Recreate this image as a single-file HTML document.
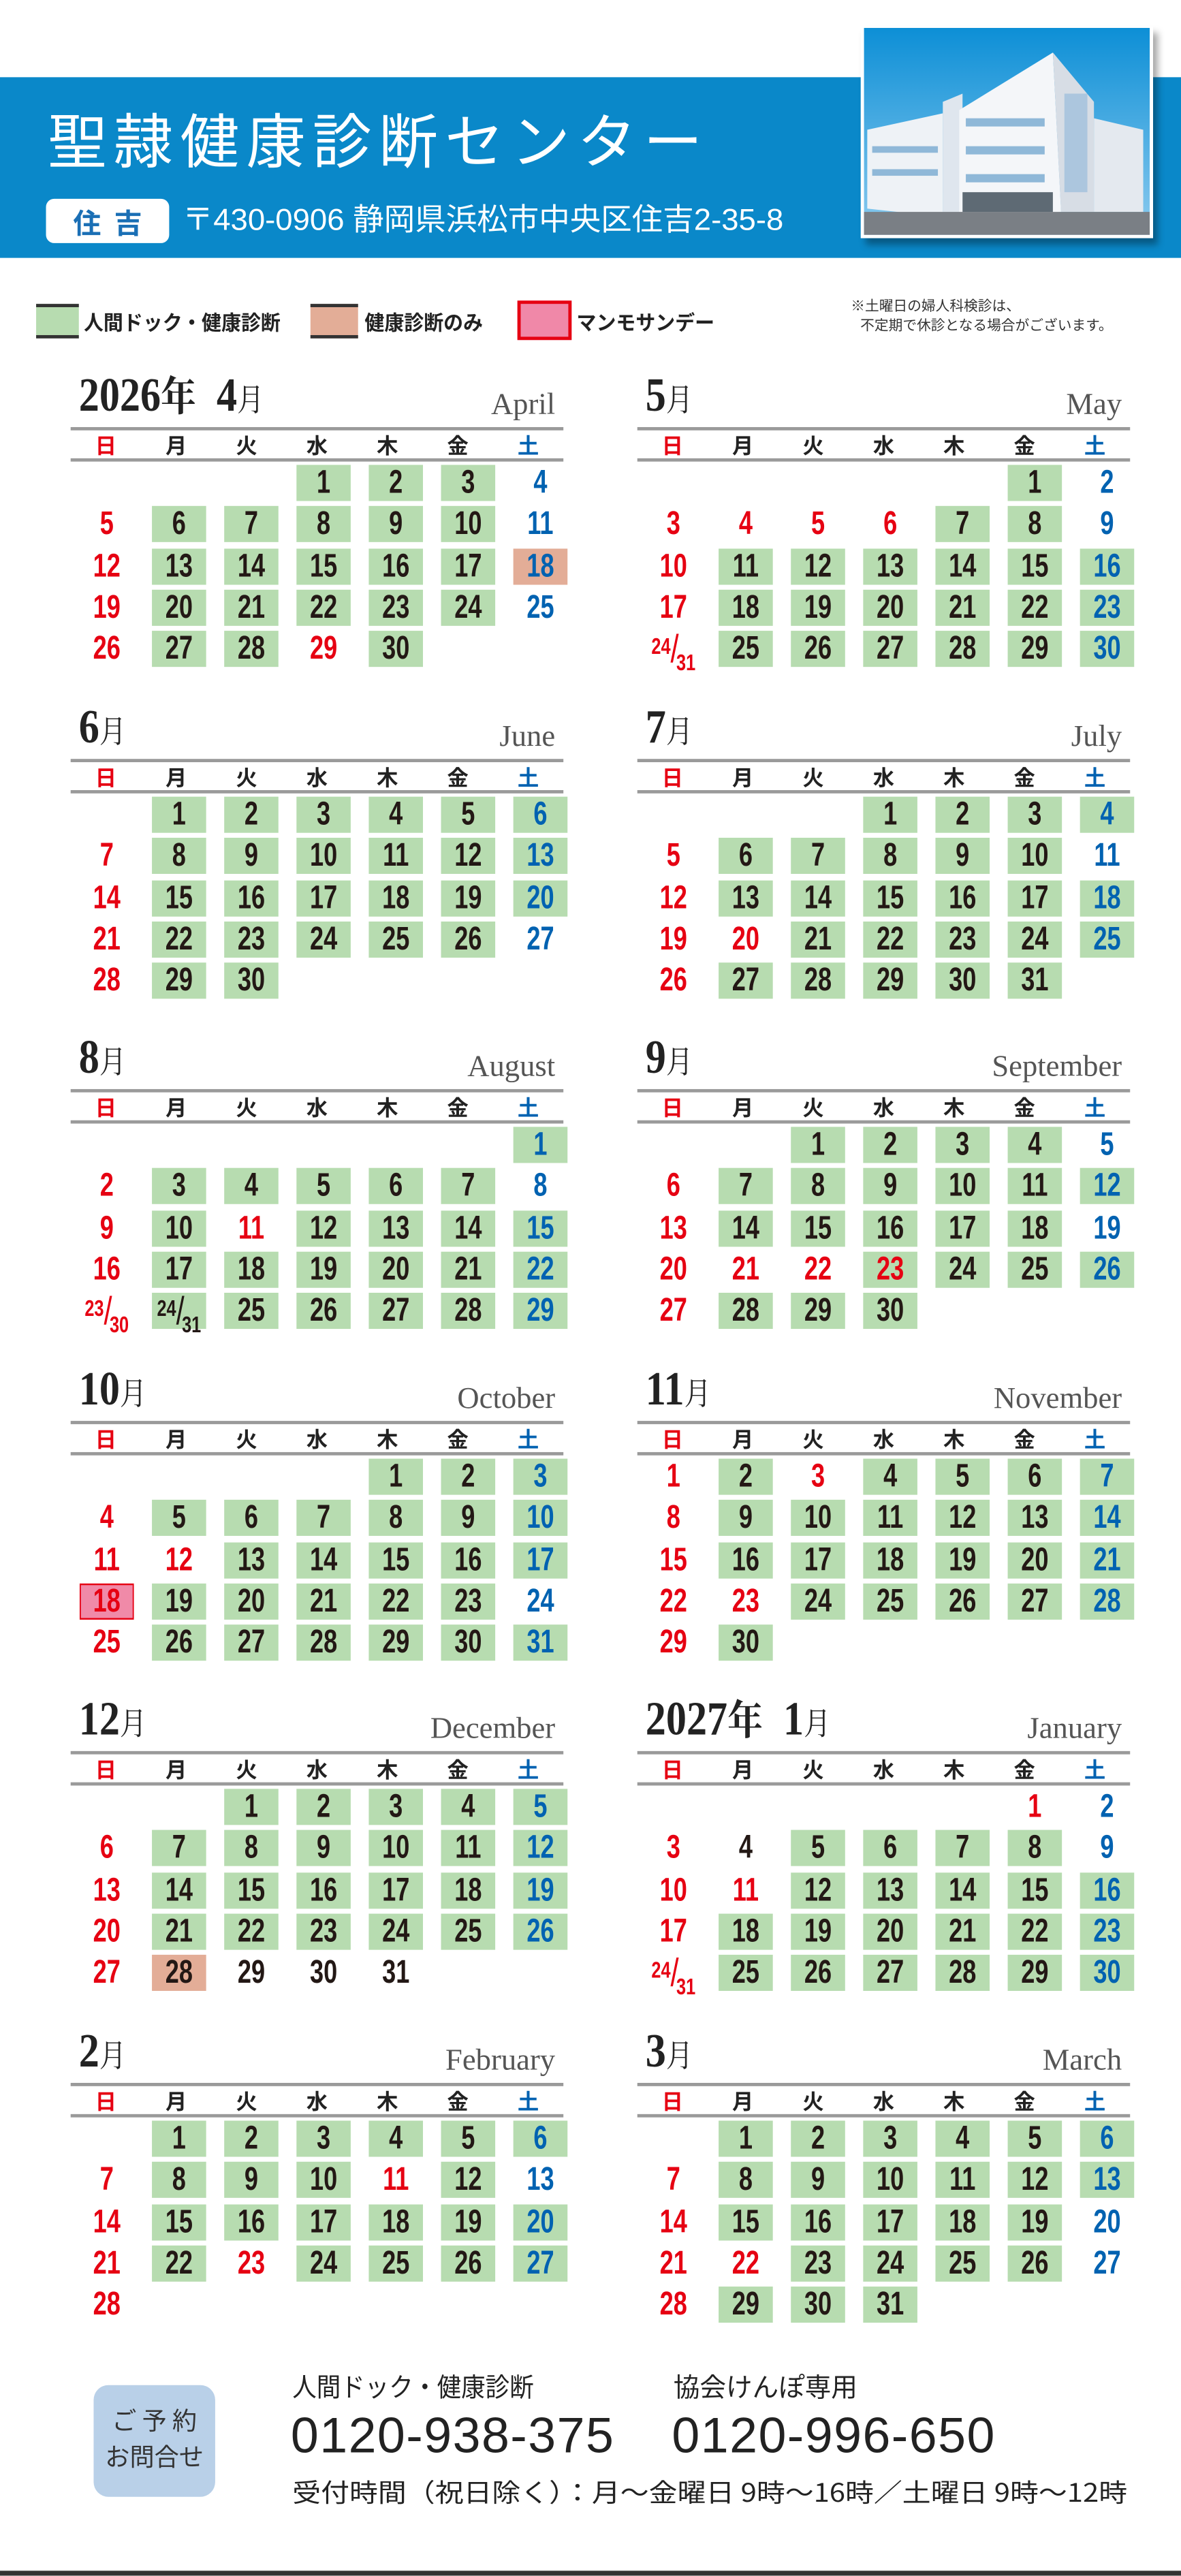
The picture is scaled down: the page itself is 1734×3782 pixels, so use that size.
<!DOCTYPE html>
<html><head><meta charset="utf-8">
<style>
html,body{margin:0;padding:0;background:#fff;}
body{width:1734px;height:3780px;overflow:hidden;position:relative;}
#w{position:absolute;left:0;top:0;width:719px;height:1568px;transform:scale(2.41168);transform-origin:0 0;font-family:"Liberation Sans","Noto Sans CJK JP",sans-serif;}
.band{position:absolute;left:0;top:47px;width:719px;height:110px;background:#0a88c9;}
.title{position:absolute;left:29px;top:62px;font-size:36px;letter-spacing:4.3px;color:#fff;font-family:"Noto Sans CJK JP",sans-serif;font-weight:400;line-height:44px;white-space:nowrap;}
.lab{position:absolute;left:28px;top:121px;width:75px;height:27px;background:#fff;border-radius:5px;color:#1a6fb5;font-weight:bold;font-size:17px;line-height:27px;text-align:center;font-family:"Noto Sans CJK JP",sans-serif;letter-spacing:8px;text-indent:8px;}
.addr{position:absolute;left:111px;top:119px;color:#fff;font-size:18.5px;line-height:30px;white-space:nowrap;font-family:"Liberation Sans","Noto Sans CJK JP",sans-serif;transform:scaleX(1.02);transform-origin:left;}
.photo{position:absolute;left:524px;top:16px;width:178px;height:129px;background:#fff;box-shadow:3px 4px 4px rgba(0,0,0,.35);}
.photo svg{position:absolute;left:2px;top:1px;}
.lg{position:absolute;top:185px;height:21px;box-sizing:border-box;}
.lt{position:absolute;top:185px;font-size:12.5px;line-height:21px;color:#222;font-family:"Noto Sans CJK JP",sans-serif;white-space:nowrap;font-weight:bold;transform:scaleX(.96);transform-origin:left;}
.note{position:absolute;left:518px;top:180px;font-size:8.6px;line-height:12px;color:#333;font-family:"Noto Sans CJK JP",sans-serif;white-space:nowrap;}
.cal{position:absolute;width:300px;}
.t{position:relative;height:28px;}
.t .n{position:absolute;left:5px;bottom:1px;font-family:"Liberation Serif","Noto Serif CJK SC",serif;font-weight:bold;font-size:29px;line-height:29px;color:#222;white-space:nowrap;transform:scaleX(.86);transform-origin:left bottom;}
.t .n small{font-size:25px;font-weight:bold;}
.t .n span{font-size:19px;font-weight:normal;}
.t em{position:absolute;right:5px;bottom:3px;font-style:normal;font-family:"Liberation Serif",serif;font-size:18.5px;line-height:20px;color:#555;}
.hd{border-top:2px solid #9a9a9a;border-bottom:2px solid #9a9a9a;height:17px;display:grid;grid-template-columns:repeat(7,1fr);font-size:13px;line-height:17px;text-align:center;color:#222;font-family:"Noto Sans CJK JP",sans-serif;font-weight:bold;}
.hd .r{color:#e60012}.hd .b{color:#0062b1}
.gr{display:grid;grid-template-columns:repeat(7,1fr);grid-auto-rows:25.3px;padding-top:2px;}
.gr i{display:block;justify-self:center;width:44px;height:22px;line-height:23px;text-align:center;font-style:normal;font-weight:bold;font-size:20px;color:#231815;transform:scaleX(.75);font-family:"Liberation Sans",sans-serif;box-sizing:border-box;}
.gr .g{background:#b7dcb0}
.gr .gb{background:#b7dcb0;color:#0062b1}
.gr .gx{background:#b7dcb0;color:#e60012}
.gr .r{color:#e60012}
.gr .b{color:#0062b1}
.gr .o{background:#e3ad97}
.gr .ob{background:#e3ad97;color:#0062b1}
.gr .p{background:#f08aa8;color:#e60012;border:1.5px solid #e60012;line-height:20px;}
.gr .f{font-size:24px;font-weight:normal;white-space:nowrap;letter-spacing:-2px;}
.gr .f sup{font-size:14px;font-weight:bold;vertical-align:5px;line-height:0;letter-spacing:0;}
.gr .f sub{font-size:14px;font-weight:bold;vertical-align:-5px;line-height:0;letter-spacing:0;}
.bx{position:absolute;left:57px;top:1452px;width:74px;height:68px;background:#b9d0e8;border-radius:9px;color:#333;font-family:"Noto Sans CJK JP",sans-serif;text-align:center;font-size:15px;line-height:22px;padding-top:11px;box-sizing:border-box;}
.ft{position:absolute;color:#222;font-family:"Noto Sans CJK JP",sans-serif;white-space:nowrap;transform-origin:left;}
.ph{position:absolute;top:1463px;font-size:30.5px;line-height:40px;color:#222;letter-spacing:.6px;font-family:"Liberation Sans",sans-serif;}
</style></head><body><div id="w">

<div class="band"></div>
<div class="title">聖隷健康診断センター</div>
<div class="lab">住吉</div>
<div class="addr">〒430-0906 静岡県浜松市中央区住吉2-35-8</div>
<div class="photo"><svg width="174" height="126" viewBox="0 0 174 126">
<defs><linearGradient id="sk" x1="0" y1="0" x2="0" y2="1"><stop offset="0" stop-color="#0d8fd6"/><stop offset="1" stop-color="#8ccbef"/></linearGradient></defs>
<rect width="174" height="126" fill="url(#sk)"/>
<polygon points="2,62 48,52 48,115 2,110" fill="#eef2f6"/>
<polygon points="48,45 60,40 60,116 48,116" fill="#dfe6ee"/>
<polygon points="58,50 115,15 120,112 58,116" fill="#f4f6f9"/>
<polygon points="115,15 140,45 140,112 120,112" fill="#d7dde5"/>
<polygon points="140,55 170,62 170,112 140,112" fill="#e4e9ef"/>
<g fill="#8fb8d8"><rect x="62" y="55" width="48" height="5"/><rect x="62" y="72" width="48" height="5"/><rect x="62" y="89" width="48" height="5"/><rect x="5" y="72" width="40" height="4"/><rect x="5" y="86" width="40" height="4"/><rect x="122" y="40" width="14" height="60" opacity=".6"/></g>
<rect x="0" y="112" width="174" height="14" fill="#7a7f85"/>
<rect x="60" y="100" width="55" height="12" fill="#5e6a74"/>
</svg></div>

<div class="lg" style="left:22px;width:26px;background:#b7dcb0;border-top:2px solid #333;border-bottom:2px solid #333;"></div>
<div class="lt" style="left:51px;">人間ドック・健康診断</div>
<div class="lg" style="left:189px;width:29px;background:#e3ad97;border-top:2px solid #333;border-bottom:2px solid #333;"></div>
<div class="lt" style="left:222px;">健康診断のみ</div>
<div class="lg" style="left:315px;width:33px;height:24px;top:183px;background:#f088a8;border:2px solid #e60012;"></div>
<div class="lt" style="left:351px;">マンモサンデー</div>
<div class="note">※土曜日の婦人科検診は、<br>&nbsp;&nbsp;&nbsp;不定期で休診となる場合がございます。</div>

<!-- April -->
<div class="cal" style="left:43px;top:232px;">
<div class="t"><div class="n">2026<small>年</small>&nbsp; 4<span>月</span></div><em>April</em></div>
<div class="hd"><span class="r">日</span><span>月</span><span>火</span><span>水</span><span>木</span><span>金</span><span class="b">土</span></div>
<div class="gr"><i></i><i></i><i></i><i class="g">1</i><i class="g">2</i><i class="g">3</i><i class="b">4</i>
<i class="r">5</i><i class="g">6</i><i class="g">7</i><i class="g">8</i><i class="g">9</i><i class="g">10</i><i class="b">11</i>
<i class="r">12</i><i class="g">13</i><i class="g">14</i><i class="g">15</i><i class="g">16</i><i class="g">17</i><i class="ob">18</i>
<i class="r">19</i><i class="g">20</i><i class="g">21</i><i class="g">22</i><i class="g">23</i><i class="g">24</i><i class="b">25</i>
<i class="r">26</i><i class="g">27</i><i class="g">28</i><i class="r">29</i><i class="g">30</i></div></div>

<!-- May -->
<div class="cal" style="left:388px;top:232px;">
<div class="t"><div class="n">5<span>月</span></div><em>May</em></div>
<div class="hd"><span class="r">日</span><span>月</span><span>火</span><span>水</span><span>木</span><span>金</span><span class="b">土</span></div>
<div class="gr"><i></i><i></i><i></i><i></i><i></i><i class="g">1</i><i class="b">2</i>
<i class="r">3</i><i class="r">4</i><i class="r">5</i><i class="r">6</i><i class="g">7</i><i class="g">8</i><i class="b">9</i>
<i class="r">10</i><i class="g">11</i><i class="g">12</i><i class="g">13</i><i class="g">14</i><i class="g">15</i><i class="gb">16</i>
<i class="r">17</i><i class="g">18</i><i class="g">19</i><i class="g">20</i><i class="g">21</i><i class="g">22</i><i class="gb">23</i>
<i class="r f"><sup>24</sup>/<sub>31</sub></i><i class="g">25</i><i class="g">26</i><i class="g">27</i><i class="g">28</i><i class="g">29</i><i class="gb">30</i></div></div>

<!-- June -->
<div class="cal" style="left:43px;top:434px;">
<div class="t"><div class="n">6<span>月</span></div><em>June</em></div>
<div class="hd"><span class="r">日</span><span>月</span><span>火</span><span>水</span><span>木</span><span>金</span><span class="b">土</span></div>
<div class="gr"><i></i><i class="g">1</i><i class="g">2</i><i class="g">3</i><i class="g">4</i><i class="g">5</i><i class="gb">6</i>
<i class="r">7</i><i class="g">8</i><i class="g">9</i><i class="g">10</i><i class="g">11</i><i class="g">12</i><i class="gb">13</i>
<i class="r">14</i><i class="g">15</i><i class="g">16</i><i class="g">17</i><i class="g">18</i><i class="g">19</i><i class="gb">20</i>
<i class="r">21</i><i class="g">22</i><i class="g">23</i><i class="g">24</i><i class="g">25</i><i class="g">26</i><i class="b">27</i>
<i class="r">28</i><i class="g">29</i><i class="g">30</i></div></div>

<!-- July -->
<div class="cal" style="left:388px;top:434px;">
<div class="t"><div class="n">7<span>月</span></div><em>July</em></div>
<div class="hd"><span class="r">日</span><span>月</span><span>火</span><span>水</span><span>木</span><span>金</span><span class="b">土</span></div>
<div class="gr"><i></i><i></i><i></i><i class="g">1</i><i class="g">2</i><i class="g">3</i><i class="gb">4</i>
<i class="r">5</i><i class="g">6</i><i class="g">7</i><i class="g">8</i><i class="g">9</i><i class="g">10</i><i class="b">11</i>
<i class="r">12</i><i class="g">13</i><i class="g">14</i><i class="g">15</i><i class="g">16</i><i class="g">17</i><i class="gb">18</i>
<i class="r">19</i><i class="r">20</i><i class="g">21</i><i class="g">22</i><i class="g">23</i><i class="g">24</i><i class="gb">25</i>
<i class="r">26</i><i class="g">27</i><i class="g">28</i><i class="g">29</i><i class="g">30</i><i class="g">31</i></div></div>

<!-- August -->
<div class="cal" style="left:43px;top:635px;">
<div class="t"><div class="n">8<span>月</span></div><em>August</em></div>
<div class="hd"><span class="r">日</span><span>月</span><span>火</span><span>水</span><span>木</span><span>金</span><span class="b">土</span></div>
<div class="gr"><i></i><i></i><i></i><i></i><i></i><i></i><i class="gb">1</i>
<i class="r">2</i><i class="g">3</i><i class="g">4</i><i class="g">5</i><i class="g">6</i><i class="g">7</i><i class="b">8</i>
<i class="r">9</i><i class="g">10</i><i class="r">11</i><i class="g">12</i><i class="g">13</i><i class="g">14</i><i class="gb">15</i>
<i class="r">16</i><i class="g">17</i><i class="g">18</i><i class="g">19</i><i class="g">20</i><i class="g">21</i><i class="gb">22</i>
<i class="r f"><sup>23</sup>/<sub>30</sub></i><i class="g f"><sup>24</sup>/<sub>31</sub></i><i class="g">25</i><i class="g">26</i><i class="g">27</i><i class="g">28</i><i class="gb">29</i></div></div>

<!-- September -->
<div class="cal" style="left:388px;top:635px;">
<div class="t"><div class="n">9<span>月</span></div><em>September</em></div>
<div class="hd"><span class="r">日</span><span>月</span><span>火</span><span>水</span><span>木</span><span>金</span><span class="b">土</span></div>
<div class="gr"><i></i><i></i><i class="g">1</i><i class="g">2</i><i class="g">3</i><i class="g">4</i><i class="b">5</i>
<i class="r">6</i><i class="g">7</i><i class="g">8</i><i class="g">9</i><i class="g">10</i><i class="g">11</i><i class="gb">12</i>
<i class="r">13</i><i class="g">14</i><i class="g">15</i><i class="g">16</i><i class="g">17</i><i class="g">18</i><i class="b">19</i>
<i class="r">20</i><i class="r">21</i><i class="r">22</i><i class="gx">23</i><i class="g">24</i><i class="g">25</i><i class="gb">26</i>
<i class="r">27</i><i class="g">28</i><i class="g">29</i><i class="g">30</i></div></div>

<!-- October -->
<div class="cal" style="left:43px;top:837px;">
<div class="t"><div class="n">10<span>月</span></div><em>October</em></div>
<div class="hd"><span class="r">日</span><span>月</span><span>火</span><span>水</span><span>木</span><span>金</span><span class="b">土</span></div>
<div class="gr"><i></i><i></i><i></i><i></i><i class="g">1</i><i class="g">2</i><i class="gb">3</i>
<i class="r">4</i><i class="g">5</i><i class="g">6</i><i class="g">7</i><i class="g">8</i><i class="g">9</i><i class="gb">10</i>
<i class="r">11</i><i class="r">12</i><i class="g">13</i><i class="g">14</i><i class="g">15</i><i class="g">16</i><i class="gb">17</i>
<i class="p">18</i><i class="g">19</i><i class="g">20</i><i class="g">21</i><i class="g">22</i><i class="g">23</i><i class="b">24</i>
<i class="r">25</i><i class="g">26</i><i class="g">27</i><i class="g">28</i><i class="g">29</i><i class="g">30</i><i class="gb">31</i></div></div>

<!-- November -->
<div class="cal" style="left:388px;top:837px;">
<div class="t"><div class="n">11<span>月</span></div><em>November</em></div>
<div class="hd"><span class="r">日</span><span>月</span><span>火</span><span>水</span><span>木</span><span>金</span><span class="b">土</span></div>
<div class="gr"><i class="r">1</i><i class="g">2</i><i class="r">3</i><i class="g">4</i><i class="g">5</i><i class="g">6</i><i class="gb">7</i>
<i class="r">8</i><i class="g">9</i><i class="g">10</i><i class="g">11</i><i class="g">12</i><i class="g">13</i><i class="gb">14</i>
<i class="r">15</i><i class="g">16</i><i class="g">17</i><i class="g">18</i><i class="g">19</i><i class="g">20</i><i class="gb">21</i>
<i class="r">22</i><i class="r">23</i><i class="g">24</i><i class="g">25</i><i class="g">26</i><i class="g">27</i><i class="gb">28</i>
<i class="r">29</i><i class="g">30</i></div></div>

<!-- December -->
<div class="cal" style="left:43px;top:1038px;">
<div class="t"><div class="n">12<span>月</span></div><em>December</em></div>
<div class="hd"><span class="r">日</span><span>月</span><span>火</span><span>水</span><span>木</span><span>金</span><span class="b">土</span></div>
<div class="gr"><i></i><i></i><i class="g">1</i><i class="g">2</i><i class="g">3</i><i class="g">4</i><i class="gb">5</i>
<i class="r">6</i><i class="g">7</i><i class="g">8</i><i class="g">9</i><i class="g">10</i><i class="g">11</i><i class="gb">12</i>
<i class="r">13</i><i class="g">14</i><i class="g">15</i><i class="g">16</i><i class="g">17</i><i class="g">18</i><i class="gb">19</i>
<i class="r">20</i><i class="g">21</i><i class="g">22</i><i class="g">23</i><i class="g">24</i><i class="g">25</i><i class="gb">26</i>
<i class="r">27</i><i class="o">28</i><i>29</i><i>30</i><i>31</i></div></div>

<!-- January -->
<div class="cal" style="left:388px;top:1038px;">
<div class="t"><div class="n">2027<small>年</small>&nbsp; 1<span>月</span></div><em>January</em></div>
<div class="hd"><span class="r">日</span><span>月</span><span>火</span><span>水</span><span>木</span><span>金</span><span class="b">土</span></div>
<div class="gr"><i></i><i></i><i></i><i></i><i></i><i class="r">1</i><i class="b">2</i>
<i class="r">3</i><i>4</i><i class="g">5</i><i class="g">6</i><i class="g">7</i><i class="g">8</i><i class="b">9</i>
<i class="r">10</i><i class="r">11</i><i class="g">12</i><i class="g">13</i><i class="g">14</i><i class="g">15</i><i class="gb">16</i>
<i class="r">17</i><i class="g">18</i><i class="g">19</i><i class="g">20</i><i class="g">21</i><i class="g">22</i><i class="gb">23</i>
<i class="r f"><sup>24</sup>/<sub>31</sub></i><i class="g">25</i><i class="g">26</i><i class="g">27</i><i class="g">28</i><i class="g">29</i><i class="gb">30</i></div></div>

<!-- February -->
<div class="cal" style="left:43px;top:1240px;">
<div class="t"><div class="n">2<span>月</span></div><em>February</em></div>
<div class="hd"><span class="r">日</span><span>月</span><span>火</span><span>水</span><span>木</span><span>金</span><span class="b">土</span></div>
<div class="gr"><i></i><i class="g">1</i><i class="g">2</i><i class="g">3</i><i class="g">4</i><i class="g">5</i><i class="gb">6</i>
<i class="r">7</i><i class="g">8</i><i class="g">9</i><i class="g">10</i><i class="r">11</i><i class="g">12</i><i class="b">13</i>
<i class="r">14</i><i class="g">15</i><i class="g">16</i><i class="g">17</i><i class="g">18</i><i class="g">19</i><i class="gb">20</i>
<i class="r">21</i><i class="g">22</i><i class="r">23</i><i class="g">24</i><i class="g">25</i><i class="g">26</i><i class="gb">27</i>
<i class="r">28</i></div></div>

<!-- March -->
<div class="cal" style="left:388px;top:1240px;">
<div class="t"><div class="n">3<span>月</span></div><em>March</em></div>
<div class="hd"><span class="r">日</span><span>月</span><span>火</span><span>水</span><span>木</span><span>金</span><span class="b">土</span></div>
<div class="gr"><i></i><i class="g">1</i><i class="g">2</i><i class="g">3</i><i class="g">4</i><i class="g">5</i><i class="gb">6</i>
<i class="r">7</i><i class="g">8</i><i class="g">9</i><i class="g">10</i><i class="g">11</i><i class="g">12</i><i class="gb">13</i>
<i class="r">14</i><i class="g">15</i><i class="g">16</i><i class="g">17</i><i class="g">18</i><i class="g">19</i><i class="b">20</i>
<i class="r">21</i><i class="r">22</i><i class="g">23</i><i class="g">24</i><i class="g">25</i><i class="g">26</i><i class="b">27</i>
<i class="r">28</i><i class="g">29</i><i class="g">30</i><i class="g">31</i></div></div>

<!-- Footer -->
<div class="bx">ご 予 約<br>お問合せ</div>
<div class="ft" style="left:178px;top:1441px;font-size:16px;line-height:22px;transform:scaleX(.92);">人間ドック・健康診断</div>
<div class="ft" style="left:410px;top:1441px;font-size:16px;line-height:22px;">協会けんぽ専用</div>
<div class="ph" style="left:177px;">0120-938-375</div>
<div class="ph" style="left:409px;">0120-996-650</div>
<div class="ft" style="left:178px;top:1506px;font-size:15.5px;line-height:22px;transform:scaleX(1.12);">受付時間（祝日除く）：月～金曜日 9時～16時／土曜日 9時～12時</div>
<div style="position:absolute;left:0;top:1565px;width:719px;height:3px;background:#333;"></div>

</div></body></html>
